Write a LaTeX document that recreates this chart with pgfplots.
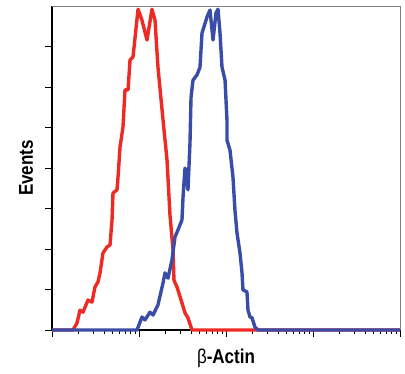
\documentclass[border=0pt]{standalone}
\usepackage{pgfplots}
\pgfplotsset{compat=1.18}
\usetikzlibrary{calc}
\usepackage{fontspec}
\newfontfamily\labfont[FakeStretch=0.85]{Liberation Sans}
\definecolor{cred}{HTML}{EE2A24}
\definecolor{cblue}{HTML}{3A4DA6}
\begin{document}
\begin{tikzpicture}
\begin{axis}[
  name=ax,
  scale only axis,
  width=348pt, height=324pt,
  xmin=0, xmax=4, ymin=0, ymax=8,
  axis x line*=bottom, axis y line*=left,
  axis line style={black, line width=1.3pt},
  xtick={0,1,2,3,4},
  minor xtick={0.301,0.477,0.602,0.699,0.778,0.845,0.903,0.954,
               1.301,1.477,1.602,1.699,1.778,1.845,1.903,1.954,
               2.301,2.477,2.602,2.699,2.778,2.845,2.903,2.954,
               3.301,3.477,3.602,3.699,3.778,3.845,3.903,3.954},
  ytick={0,1,2,3,4,5,6,7},
  xticklabels={}, yticklabels={},
  tick align=outside,
  major tick length=6.5pt, minor tick length=3.5pt,
  tick style={black, line width=1pt},
  xlabel={{\mdseries β}-Actin},
  ylabel={Events},
  label style={font=\labfont\bfseries\fontsize{20}{22}\selectfont},
  xlabel style={at={(axis description cs:0.5,-0.102)}, anchor=base},
  ylabel style={at={(axis description cs:-0.0747,0.5)}, anchor=center},
  clip=false,
]
\addplot[cred, line width=3.4pt, line join=round] coordinates {
(0,0) (0.241,0) (0.287,0.17) (0.322,0.49) (0.356,0.44) (0.414,0.74) (0.460,0.69)
(0.494,1.06) (0.529,1.19) (0.552,1.41) (0.586,1.90) (0.632,2.05) (0.667,2.10)
(0.690,2.72) (0.701,3.38) (0.747,3.46) (0.759,3.78) (0.782,4.52) (0.816,5.01)
(0.839,5.93) (0.874,5.93) (0.897,6.67) (0.931,6.74) (0.989,7.92) (1.034,7.65)
(1.092,7.16) (1.149,7.92) (1.184,7.65) (1.218,6.49) (1.276,5.19) (1.322,4.20)
(1.356,2.84) (1.391,1.98) (1.402,1.23) (1.437,1.06) (1.494,0.67) (1.529,0.42)
(1.563,0.30) (1.609,0) (4,0)
};
\addplot[cblue, line width=3.4pt, line join=round] coordinates {
(0,0) (0.977,0) (1.034,0.32) (1.069,0.25) (1.126,0.44) (1.161,0.37) (1.218,0.62)
(1.276,1.16) (1.299,1.41) (1.333,1.28) (1.379,1.73) (1.414,2.30) (1.448,2.47)
(1.494,2.72) (1.506,3.28) (1.529,4.00) (1.563,3.46) (1.586,4.62) (1.598,5.75)
(1.621,6.17) (1.667,6.30) (1.701,6.49) (1.724,7.33) (1.782,7.73) (1.816,7.90)
(1.851,7.16) (1.885,7.83) (1.908,7.92) (1.931,7.33) (1.954,6.49) (1.989,6.17)
(2.011,5.19) (2.011,4.69) (2.046,4.44) (2.080,3.78) (2.103,2.96) (2.126,2.40)
(2.161,1.90) (2.184,1.41) (2.195,0.99) (2.241,0.94) (2.253,0.49) (2.276,0.32)
(2.299,0.30) (2.333,0.07) (2.368,0) (4,0)
};
\end{axis}
\draw[gray, line width=0.9pt] (ax.north west) -- (ax.north east) -- (ax.south east);
\path (ax.south west) ++(-52pt,-43pt) rectangle ($(ax.north east)+(5pt,6pt)$);
\end{tikzpicture}
\end{document}
